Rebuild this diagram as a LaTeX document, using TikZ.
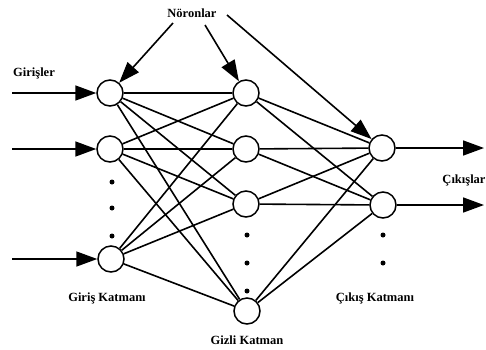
\documentclass[tikz,border=0pt]{standalone}
\usepackage{fontspec}
\setmainfont{Liberation Serif}
\usetikzlibrary{arrows.meta}
\begin{document}
\begin{tikzpicture}[x=1pt,y=-1pt,
  neuron/.style={circle,draw,line width=1.5pt,minimum size=26pt,inner sep=0pt,fill=white},
  conn/.style={line width=1.6pt},
  bigarrow/.style={line width=1.6pt,-{Triangle[length=21pt,width=15pt]}},
  lbl/.style={font=\bfseries\fontsize{12.5}{14}\selectfont},
  dotmark/.style={circle,fill,inner sep=0pt,minimum size=5pt}]
\useasboundingbox (0,0) rectangle (486,349);
% connections (drawn between named neuron positions)
\foreach \n/\x/\y in {i1/110/93,i2/110/149,i3/111/259,h1/246/93,h2/246/149,h3/246/204,h4/247/311,o1/382/148,o2/383/205}{
  \node[neuron,draw=none,fill=none] (\n) at (\x,\y) {};
}
\foreach \i in {i1,i2,i3}{
  \foreach \h in {h1,h2,h3,h4}{
    \draw[conn] (\i) -- (\h);
  }
}
\foreach \h in {h1,h2,h3,h4}{
  \foreach \o in {o1,o2}{
    \draw[conn] (\h) -- (\o);
  }
}
% neurons
\foreach \n in {i1,i2,i3,h1,h2,h3,h4,o1,o2}{
  \node[neuron] (c\n) at (\n) {};
}
% dots
\node[dotmark] (d1) at (112,182) {};
\node[dotmark] (d2) at (112,208) {};
\node[dotmark] (d3) at (112,236) {};
\node[dotmark] (d4) at (247,235) {};
\node[dotmark] (d5) at (247,263) {};
\node[dotmark] (d6) at (247,291) {};
\node[dotmark] (d7) at (383,235) {};
\node[dotmark] (d8) at (383,263) {};
% inputs
\coordinate (a1) at (12,93);
\coordinate (a2) at (12,149);
\coordinate (a3) at (12,259);
\draw[bigarrow] (a1) -- (i1);
\draw[bigarrow] (a2) -- (i2);
\draw[bigarrow] (a3) -- (i3);
% outputs
\coordinate (b1) at (484,148);
\coordinate (b2) at (484,205);
\draw[bigarrow] (o1) -- (b1);
\draw[bigarrow] (o2) -- (b2);
% labels
\node[lbl] (nor) at (192,13) {Nöronlar};
\node[lbl] (gir) at (34,73) {Girişler};
\node[lbl] (cik) at (464,180) {Çıkışlar};
\node[lbl] (gk) at (107,298) {Giriş Katmanı};
\node[lbl] (zk) at (247,340) {Gizli Katman};
\node[lbl] (ck) at (375,298) {Çıkış Katmanı};
% neuron pointers
\coordinate (s1) at (173,23);
\coordinate (s2) at (205,25);
\coordinate (s3) at (227,15);
\draw[bigarrow] (s1) -- (i1);
\draw[bigarrow] (s2) -- (h1);
\draw[bigarrow] (s3) -- (o1);
\end{tikzpicture}
\end{document}
